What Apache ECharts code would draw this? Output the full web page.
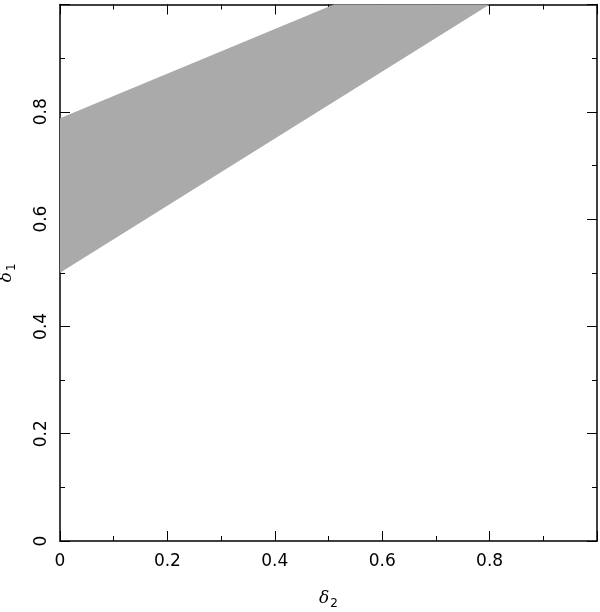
<!DOCTYPE html>
<html>
<head>
<meta charset="utf-8">
<script src="https://cdn.jsdelivr.net/npm/echarts@6/dist/echarts.min.js"></script>
<style>html,body{margin:0;padding:0;background:#fff;}#c{width:600px;height:612px;}</style>
</head>
<body>
<div id="c"></div>
<script>
// Region boundary (delta2, delta1) points of the shaded band
var bandX = [0, 0.8, 0.51, 0];
var bandY = [0.5, 1.0, 1.0, 0.788];
var xTicks = [0, 0.2, 0.4, 0.6, 0.8];
var yTicks = [0, 0.2, 0.4, 0.6, 0.8];

var bandData = bandX.map(function (x, i) { return [x, bandY[i]]; });

var chart = echarts.init(document.getElementById('c'), null, {renderer: 'canvas'});
var font = 'DejaVu Sans';
function fmtX(v) {
  var r = Math.round(v * 10) / 10;
  if (xTicks.indexOf(r) < 0) return '';
  return r === 0 ? '0' : String(r);
}
function fmtY(v) {
  var r = Math.round(v * 10) / 10;
  if (yTicks.indexOf(r) < 0) return '';
  return r === 0 ? '0' : String(r);
}
var axisCommon = {
  type: 'value', min: 0, max: 1, interval: 0.2,
  axisLine: {show: true, onZero: false, lineStyle: {color: '#000', width: 1.5}},
  axisTick: {show: true, inside: true, length: 10, lineStyle: {color: '#000', width: 1}},
  minorTick: {show: true, splitNumber: 2, length: 5, lineStyle: {color: '#000', width: 1}},
  splitLine: {show: false},
  minorSplitLine: {show: false}
};
function ax(extra) { return Object.assign({}, JSON.parse(JSON.stringify(axisCommon)), extra); }

var option = {
  animation: false,
  backgroundColor: '#fff',
  grid: {left: 60, right: 3, top: 4.5, bottom: 71, containLabel: false, outerBoundsMode: 'none'},
  xAxis: [
    ax({position: 'bottom',
      axisLabel: {show: true, margin: 12, color: '#000', fontFamily: font, fontSize: 17,
        formatter: fmtX, showMaxLabel: false},
      name: '{d|δ}{s|2}', nameLocation: 'middle', nameGap: 47,
      nameTextStyle: {rich: {
        d: {fontFamily: 'DejaVu Serif', fontStyle: 'italic', fontSize: 17, color: '#000'},
        s: {fontFamily: font, fontSize: 12, color: '#000', padding: [10, 0, 0, 1]}
      }}
    }),
    ax({position: 'top', axisLabel: {show: false}})
  ],
  yAxis: [
    ax({position: 'left',
      axisLabel: {show: true, margin: 10, rotate: 90, color: '#000', fontFamily: font, fontSize: 17,
        formatter: fmtY, showMaxLabel: false},
      name: '{d|δ}{s|1}', nameLocation: 'middle', nameGap: 42, nameRotate: 90,
      nameTextStyle: {rich: {
        d: {fontFamily: 'DejaVu Serif', fontStyle: 'italic', fontSize: 17, color: '#000'},
        s: {fontFamily: font, fontSize: 12, color: '#000', padding: [10, 0, 0, 1]}
      }}
    }),
    ax({position: 'right', axisLabel: {show: false}})
  ],
  series: [{
    type: 'custom',
    xAxisIndex: 0, yAxisIndex: 0,
    data: bandData,
    z: 1,
    renderItem: function (params, api) {
      if (params.dataIndex !== 0) return null;
      var pts = bandData.map(function (p) { return api.coord(p); });
      return {type: 'polygon', shape: {points: pts}, style: {fill: '#aaaaaa', stroke: null}};
    }
  }]
};
chart.setOption(option);
</script>
</body>
</html>
